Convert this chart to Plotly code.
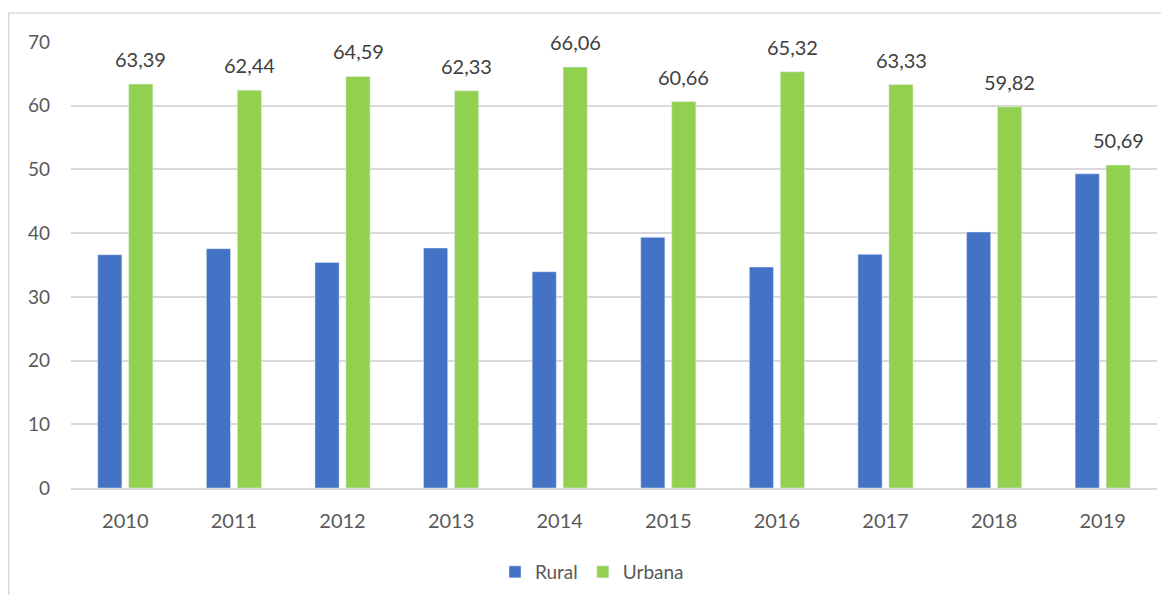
import plotly.graph_objects as go

years = ["2010", "2011", "2012", "2013", "2014", "2015", "2016", "2017", "2018", "2019"]
urbana = [63.39, 62.44, 64.59, 62.33, 66.06, 60.66, 65.32, 63.33, 59.82, 50.69]
rural = [36.61, 37.56, 35.41, 37.67, 33.94, 39.34, 34.68, 36.67, 40.18, 49.31]
urbana_labels = ["63,39", "62,44", "64,59", "62,33", "66,06", "60,66", "65,32", "63,33", "59,82", "50,69"]
y_ticks = [0, 10, 20, 30, 40, 50, 60, 70]

# page body has an 8px margin, so the figure starts at (8, 8) in the window
OFF = 8
W, H = 1153, 587
ml, mr, mt, mb = 63, 4, 34, 107
pw, ph = W - ml - mr, H - mt - mb

fig = go.Figure()
fig.add_trace(go.Bar(name="Rural", x=years, y=rural, marker_color="#4472C4",
                     hoverinfo="y"))
fig.add_trace(go.Bar(name="Urbana", x=years, y=urbana, marker_color="#92D050",
                     hoverinfo="y"))

# data labels above the green (Urbana) bars (x given as category index)
for i, (val, lab) in enumerate(zip(urbana, urbana_labels)):
    fig.add_annotation(x=i, y=val, xref="x", yref="y", text=lab, showarrow=False,
                       xshift=15.5, yshift=25, yanchor="middle", xanchor="center",
                       font=dict(size=20, color="#404040", family="Lato"))

def px_to_paper_x(px):
    return (px - OFF - ml) / pw

def px_to_paper_y(py):
    return (H - mb - (py - OFF)) / ph

fig.update_layout(
    width=W, height=H,
    margin=dict(l=ml, r=mr, t=mt, b=mb),
    paper_bgcolor="white", plot_bgcolor="white",
    font=dict(family="Lato", color="#595959", size=19),
    barmode="group", bargap=0.43, bargroupgap=0.22,
    showlegend=True,
    legend=dict(orientation="h", x=0.5 - 22 / pw, xanchor="center", y=px_to_paper_y(572), yanchor="middle",
                font=dict(size=19, color="#595959"), traceorder="normal"),
    xaxis=dict(type="category", range=[-0.5, len(years) - 0.5], showgrid=False, showline=True,
               linecolor="#d9d9d9", linewidth=1.5,
               ticks="", tickfont=dict(size=20, color="#595959"), ticklabelstandoff=14),
    yaxis=dict(range=[0, 70], tickvals=y_ticks, showgrid=True, gridcolor="#d9d9d9", gridwidth=1.5,
               zeroline=False, showline=False, ticks="",
               tickfont=dict(size=19, color="#595959"), ticklabelstandoff=20),
    shapes=[
        dict(type="line", xref="paper", yref="paper",
             x0=px_to_paper_x(8.75), x1=px_to_paper_x(8.75), y0=px_to_paper_y(13), y1=px_to_paper_y(610),
             line=dict(color="#d9d9d9", width=1.5)),
        dict(type="line", xref="paper", yref="paper",
             x0=px_to_paper_x(8), x1=px_to_paper_x(1175), y0=px_to_paper_y(13), y1=px_to_paper_y(13),
             line=dict(color="#d9d9d9", width=1.5)),
    ],
)

fig.write_html("out.html")
